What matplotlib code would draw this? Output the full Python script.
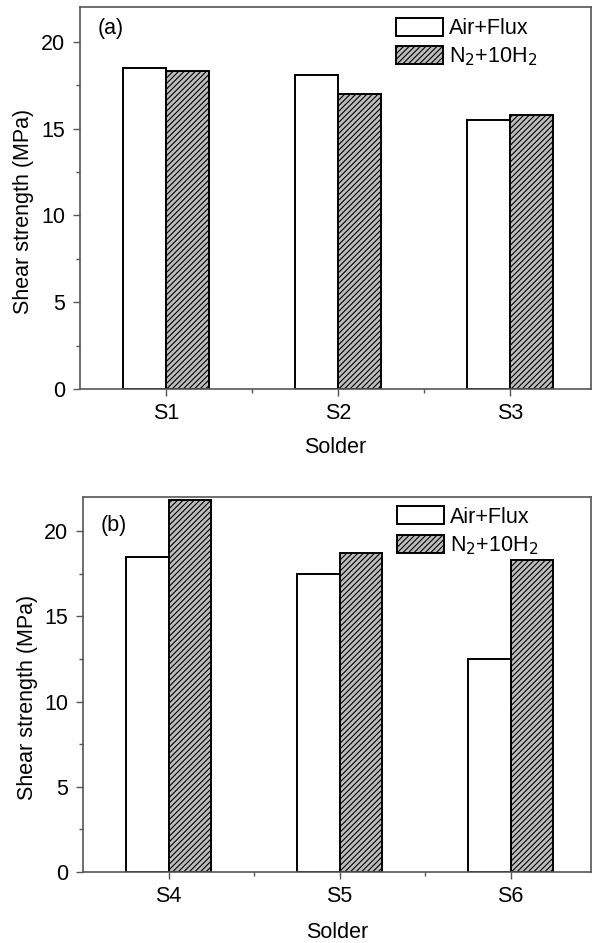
import matplotlib
matplotlib.use('Agg')
import matplotlib.pyplot as plt
import numpy as np

# --- data ---
solders_a = ['S1', 'S2', 'S3']
air_flux_a = [18.5, 18.1, 15.5]
n2_h2_a = [18.3, 17.0, 15.8]

solders_b = ['S4', 'S5', 'S6']
air_flux_b = [18.5, 17.5, 12.5]
n2_h2_b = [21.8, 18.7, 18.3]

panel_tags = ['(a)', '(b)']

plt.rcParams['font.family'] = ['Liberation Sans', 'DejaVu Sans']
plt.rcParams['hatch.color'] = '#333333'
plt.rcParams['hatch.linewidth'] = 0.8

W, H = 592, 943
fig = plt.figure(figsize=(W / 100, H / 100), dpi=100)

SPINE = '#555555'
FS = 15.5


def draw_panel(ax, names, air, n2, tag, tag_y, xlab_y, leg_y):
    x = np.arange(1, len(names) + 1)
    w = 0.25
    ax.bar(x - w / 2, air, w, color='white', edgecolor='black', linewidth=1.4,
           label='Air+Flux')
    ax.bar(x + w / 2, n2, w, color='#bdbdbd', edgecolor='black', linewidth=1.4,
           hatch='//////', label='N$_2$+10H$_2$')
    ax.set_xlim(0.5, 3.47)
    ax.set_ylim(0, 22)
    ax.set_xticks(x)
    ax.set_xticklabels(names)
    ax.set_xticks([1.5, 2.5], minor=True)
    ax.set_yticks([0, 5, 10, 15, 20])
    ax.set_yticks([2.5, 7.5, 12.5, 17.5], minor=True)
    ax.tick_params(axis='both', which='major', direction='out', length=5,
                   width=1, color=SPINE, labelsize=FS)
    ax.tick_params(axis='y', which='major', pad=5.5)
    ax.tick_params(axis='x', which='major', pad=5)
    ax.tick_params(axis='both', which='minor', direction='out', length=3,
                   width=1, color=SPINE)
    for s in ax.spines.values():
        s.set_color(SPINE)
        s.set_linewidth(1.2)
    ax.set_xlabel('Solder', fontsize=FS, va='center')
    ax.xaxis.set_label_coords(0.5, xlab_y)
    ax.set_ylabel('Shear strength (MPa)', fontsize=FS, va='center')
    ax.yaxis.set_label_coords(-0.11, 0.466)
    ax.text(0.034, tag_y, tag, transform=ax.transAxes, fontsize=FS,
            va='center', ha='left')
    ax.legend(loc='upper left', bbox_to_anchor=(0.618, leg_y), frameon=False,
              fontsize=FS, handlelength=2.2, handleheight=0.9,
              handletextpad=0.25, labelspacing=0.3, borderaxespad=0,
              borderpad=0)


ax1 = fig.add_axes([80 / W, 1 - 389 / H, (591 - 80) / W, (389 - 7) / H])
ax2 = fig.add_axes([83 / W, 1 - 872 / H, (591 - 83) / W, (872 - 497) / H])

draw_panel(ax1, solders_a, air_flux_a, n2_h2_a, panel_tags[0], 0.945, -0.152, 0.972)
draw_panel(ax2, solders_b, air_flux_b, n2_h2_b, panel_tags[1], 0.925, -0.16, 0.975)

fig.savefig('out.png', dpi=100)
